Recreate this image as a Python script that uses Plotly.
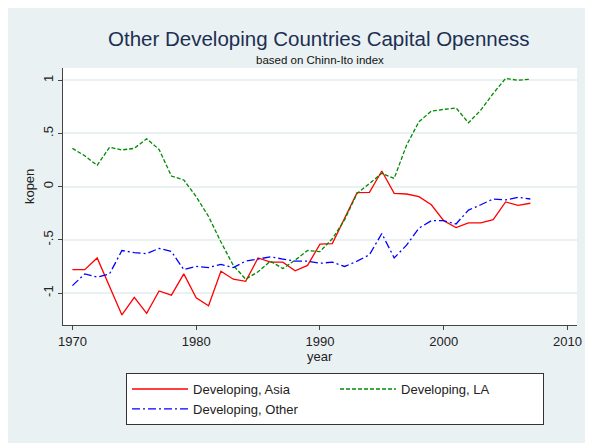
import plotly.graph_objects as go

years = list(range(1970, 2008))

asia = [-0.78, -0.78, -0.67, -0.94, -1.205, -1.04, -1.19, -0.98, -1.02, -0.82,
        -1.045, -1.12, -0.795, -0.87, -0.89, -0.67, -0.71, -0.71, -0.79, -0.74,
        -0.54, -0.535, -0.30, -0.056, -0.053, 0.147, -0.063, -0.069, -0.094, -0.17,
        -0.32, -0.385, -0.34, -0.34, -0.31, -0.144, -0.175, -0.156]

latin_america = [0.36, 0.29, 0.20, 0.37, 0.345, 0.36, 0.45, 0.35, 0.10, 0.063,
                 -0.094, -0.28, -0.52, -0.74, -0.87, -0.80, -0.70, -0.77, -0.69, -0.60,
                 -0.61, -0.49, -0.31, -0.063, 0.03, 0.125, 0.078, 0.39, 0.61, 0.71,
                 0.726, 0.74, 0.60, 0.72, 0.876, 1.017, 1.00, 1.01]

other = [-0.93, -0.82, -0.85, -0.82, -0.60, -0.62, -0.63, -0.58, -0.61, -0.78,
         -0.75, -0.76, -0.73, -0.76, -0.70, -0.68, -0.66, -0.68, -0.70, -0.70,
         -0.72, -0.71, -0.75, -0.70, -0.64, -0.44, -0.67, -0.55, -0.39, -0.32,
         -0.32, -0.35, -0.22, -0.17, -0.116, -0.125, -0.10, -0.116]

y_ticks = [-1, -0.5, 0, 0.5, 1]
y_tick_text = ["-1", "-.5", "0", ".5", "1"]
x_ticks = [1970, 1980, 1990, 2000, 2010]

FONT = "Liberation Sans, Arial, sans-serif"
BG = "#EAF1F3"

fig = go.Figure()
fig.add_trace(go.Scatter(x=years, y=asia, mode="lines", name="Developing, Asia",
                         line=dict(color="#FF0000", width=1.3)))
fig.add_trace(go.Scatter(x=years, y=latin_america, mode="lines", name="Developing, LA",
                         line=dict(color="#008A00", width=1.3, dash="4px,2px")))
fig.add_trace(go.Scatter(x=years, y=other, mode="lines", name="Developing, Other",
                         line=dict(color="#0000FF", width=1.3, dash="8px,3px,2px,3px")))

fig.update_layout(
    width=593, height=443,
    margin=dict(l=55, r=24, t=60, b=126, autoexpand=False),
    paper_bgcolor=BG, plot_bgcolor="white",
    font=dict(family=FONT, size=13, color="#222"),
    legend=dict(orientation="h", x=0.1226, y=-0.187, xanchor="left", yanchor="top",
                bgcolor="white", bordercolor="#333", borderwidth=1,
                entrywidth=137, itemwidth=56, traceorder="normal",
                font=dict(size=13, color="#222")),
)

fig.update_xaxes(range=[1969.24, 2010.77], tickvals=x_ticks, showgrid=False,
                 showline=True, linecolor="#444", linewidth=1, ticks="outside",
                 ticklen=4, tickcolor="#444", zeroline=False, automargin=False)
fig.update_yaxes(range=[-1.30, 1.115], tickvals=y_ticks, ticktext=y_tick_text,
                 tickangle=-90, showgrid=True, gridcolor=BG, gridwidth=1.5,
                 showline=True, linecolor="#444", linewidth=1, ticks="outside",
                 ticklen=4, tickcolor="#444", zeroline=False, automargin=False)

# titles
fig.add_annotation(text="Other Developing Countries Capital Openness", xref="paper", yref="paper",
                   x=0.498, y=1.1167, xanchor="center", yanchor="middle", showarrow=False,
                   font=dict(size=20.5, color="#1C2F52"))
fig.add_annotation(text="based on Chinn-Ito index", xref="paper", yref="paper",
                   x=0.5, y=1.031, xanchor="center", yanchor="middle", showarrow=False,
                   font=dict(size=11.5, color="#111"))
fig.add_annotation(text="year", xref="paper", yref="paper", x=0.5, y=-0.121,
                   xanchor="center", yanchor="middle", showarrow=False,
                   font=dict(size=13, color="#222"))
fig.add_annotation(text="kopen", xref="paper", yref="paper", x=-0.064, y=0.537,
                   xanchor="center", yanchor="middle", textangle=-90, showarrow=False,
                   font=dict(size=13, color="#222"))

fig.write_html("out.html")
